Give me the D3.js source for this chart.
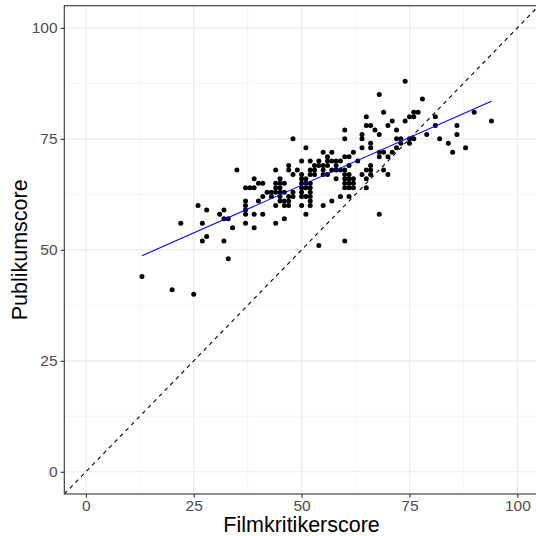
<!DOCTYPE html>
<html>
<head>
<meta charset="utf-8">
<script src="https://cdn.jsdelivr.net/npm/d3@7"></script>
<style>
  body { margin: 0; background: #fff; }
  svg { display: block; font-family: "Liberation Sans", Arial, sans-serif; }
</style>
</head>
<body>
<div id="chart"></div>
<script>
// critic score (x) and audience score (y)
var critics = [13,20,25,22,26,27,27,28,28,31, 32,32,33,32,33,34,35,37,38,37,
	37,37,37,37,39,39,39,39,40,41, 40,41,41,42,43,43,44,44,44,44,
	44,44,45,45,45,45,45,45,46,46, 46,46,46,47,47,47,47,47,48,48,
	48,48,49,50,50,50,50,50,50,50, 50,51,51,51,51,51,51,52,52,52,
	52,52,52,52,52,52,53,53,53,54, 54,54,55,55,55,55,55,56,56,56,
	56,57,57,57,57,58,58,58,58,59, 59,59,60,60,60,60,60,60,60,60,
	60,61,61,61,61,61,61,61,62,62, 62,62,63,64,64,64,64,65,65,65,
	65,65,66,66,66,66,66,66,67,68, 68,68,68,68,69,69,69,70,70,70,
	71,71,72,72,72,73,73,74,74,75, 75,75,76,76,76,77,78,79,81,81,
	82,84,85,86,86,88,90,94];
var audience = [44,41,40,56,60,56,52,59,53,58, 59,57,57,52,48,55,68,64,64,60,
	59,58,56,61,64,58,55,66,65,65, 61,62,58,63,63,62,68,65,64,63,
	60,56,66,65,64,63,62,61,65,63, 61,60,57,69,68,62,61,60,75,67,
	63,62,68,70,67,66,65,63,62,60, 64,73,66,65,64,62,58,70,68,67,
	65,64,63,62,61,60,69,68,67,70, 69,51,72,68,67,69,60,71,70,69,
	67,72,70,68,61,70,68,66,69,70, 68,62,77,75,71,68,67,66,65,64,
	52,71,65,64,62,69,67,66,72,66, 65,64,70,76,75,73,67,80,78,68,
	66,64,78,74,73,68,67,69,77,85, 76,72,71,58,81,72,68,78,71,67,
	79,72,77,75,73,75,74,88,79,80, 75,74,81,80,75,81,84,76,80,78,
	75,74,72,78,76,73,81,79];

var xTicks = [0, 25, 50, 75, 100];
var yTicks = [0, 25, 50, 75, 100];
var xMinor = [12.5, 37.5, 62.5, 87.5];
var yMinor = [12.5, 37.5, 62.5, 87.5];

var width = 536, height = 536;
var panel = {left: 64.3, top: 5.7, right: 538.9, bottom: 494};

var svg = d3.select('#chart').append('svg')
	.attr('width', width)
	.attr('height', height);

var x = d3.scaleLinear().domain([-5, 105]).range([panel.left, panel.right]);
var y = d3.scaleLinear().domain([-5, 105]).range([panel.bottom, panel.top]);

svg.append('clipPath').attr('id', 'clip')
	.append('rect')
	.attr('x', panel.left).attr('y', panel.top)
	.attr('width', panel.right - panel.left).attr('height', panel.bottom - panel.top);

var grid = svg.append('g');

// minor grid
grid.selectAll('line.xminor').data(xMinor).enter().append('line')
	.attr('x1', d => x(d)).attr('x2', d => x(d))
	.attr('y1', panel.top).attr('y2', panel.bottom)
	.attr('stroke', '#ebebeb').attr('stroke-width', 0.55);
grid.selectAll('line.yminor').data(yMinor).enter().append('line')
	.attr('y1', d => y(d)).attr('y2', d => y(d))
	.attr('x1', panel.left).attr('x2', panel.right)
	.attr('stroke', '#ebebeb').attr('stroke-width', 0.55);

// major grid
grid.selectAll('line.xmajor').data(xTicks).enter().append('line')
	.attr('x1', d => x(d)).attr('x2', d => x(d))
	.attr('y1', panel.top).attr('y2', panel.bottom)
	.attr('stroke', '#ebebeb').attr('stroke-width', 1.1);
grid.selectAll('line.ymajor').data(yTicks).enter().append('line')
	.attr('y1', d => y(d)).attr('y2', d => y(d))
	.attr('x1', panel.left).attr('x2', panel.right)
	.attr('stroke', '#ebebeb').attr('stroke-width', 1.1);

var plot = svg.append('g').attr('clip-path', 'url(#clip)');

// identity line
plot.append('line')
	.attr('x1', x(-5)).attr('y1', y(-5))
	.attr('x2', x(105)).attr('y2', y(105))
	.attr('stroke', '#000').attr('stroke-width', 1.1)
	.attr('stroke-dasharray', '4,4');

// points
var pts = critics.map(function(c, i){ return [c, audience[i]]; });
plot.selectAll('circle').data(pts).enter().append('circle')
	.attr('cx', d => x(d[0]))
	.attr('cy', d => y(d[1]))
	.attr('r', 2.5)
	.attr('fill', '#000');

// linear fit, same as geom_smooth(method = "lm", se = FALSE)
var mx = d3.mean(critics), my = d3.mean(audience);
var sxy = d3.sum(pts, d => (d[0] - mx) * (d[1] - my));
var sxx = d3.sum(critics, d => (d - mx) * (d - mx));
var slope = sxy / sxx, intercept = my - slope * mx;
var xr = d3.extent(critics);
plot.append('line')
	.attr('x1', x(xr[0])).attr('y1', y(intercept + slope * xr[0]))
	.attr('x2', x(xr[1])).attr('y2', y(intercept + slope * xr[1]))
	.attr('stroke', '#0000ff').attr('stroke-width', 1.1);

// panel border
svg.append('rect')
	.attr('x', panel.left).attr('y', panel.top)
	.attr('width', panel.right - panel.left).attr('height', panel.bottom - panel.top)
	.attr('fill', 'none').attr('stroke', '#333333').attr('stroke-width', 1.1);

// axes
var xAxis = svg.append('g')
	.attr('transform', 'translate(0,' + panel.bottom + ')')
	.call(d3.axisBottom(x).tickValues(xTicks).tickSize(3.7).tickPadding(2.5));
var yAxis = svg.append('g')
	.attr('transform', 'translate(' + panel.left + ',0)')
	.call(d3.axisLeft(y).tickValues(yTicks).tickSize(3.7).tickPadding(3));

[xAxis, yAxis].forEach(function(a){
	a.select('.domain').remove();
	a.selectAll('line').attr('stroke', '#333333').attr('stroke-width', 1.1);
	a.selectAll('text')
		.attr('fill', '#4d4d4d')
		.style('font-size', '15.5px')
		.style('font-family', '"Liberation Sans", Arial, sans-serif');
});

// axis titles
svg.append('text')
	.attr('x', (panel.left + panel.right) / 2)
	.attr('y', 532)
	.attr('text-anchor', 'middle')
	.style('font-size', '21.5px')
	.text('Filmkritikerscore');

svg.append('text')
	.attr('transform', 'translate(27,' + (panel.top + panel.bottom) / 2 + ')rotate(-90)')
	.attr('text-anchor', 'middle')
	.style('font-size', '21.5px')
	.text('Publikumscore');
</script>
</body>
</html>
